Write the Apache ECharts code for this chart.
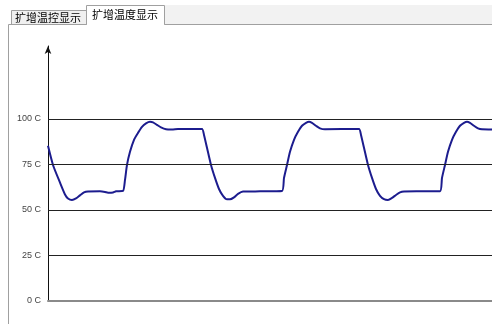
<!DOCTYPE html>
<html>
<head>
<meta charset="utf-8">
<script src="https://cdn.jsdelivr.net/npm/echarts@6/dist/echarts.min.js"></script>
<style>
html,body{margin:0;padding:0;background:#fff;}
#c{width:492px;height:324px;}
</style>
</head>
<body>
<div id="c"></div>
<script>
// Tabs
var tabLabels = ['扩增温控显示', '扩增温度显示'];
// Y axis
var yTickValues = [0, 25, 50, 75, 100];
var gridValues = [25, 50, 75, 100];
var yUnit = ' C';
// Time (s) and temperature (°C)
var times = [
  0, 5, 12, 17, 20, 24, 28, 32, 36, 40, 52, 57, 60, 65, 68, 75,
  77, 79, 82, 86, 90, 94, 98, 102, 105, 109, 113, 118, 124, 130, 154,
  156, 159, 163, 167, 171, 175, 179, 182, 186, 190, 195, 212, 234,
  236, 239, 242, 246, 250, 254, 258, 261, 264, 268, 272, 277, 311,
  313, 316, 320, 324, 328, 332, 336, 340, 344, 348, 352, 356, 372, 392,
  394, 397, 400, 404, 408, 412, 416, 419, 422, 426, 430, 434, 444
];
var temps = [
  85.2, 74.7, 65, 58.5, 56.3, 55.5, 56.3, 58.0, 59.6, 60.1, 60.2, 59.9, 59.5, 59.6, 60.2, 60.4,
  66.5, 74.7, 81.9, 88.5, 92.3, 95.6, 97.5, 98.4, 98.1, 96.7, 95.3, 94.3, 94.2, 94.5, 94.5,
  91.2, 84.1, 74.7, 67.6, 61.5, 57.7, 55.8, 55.8, 56.9, 58.8, 60.1, 60.2, 60.4,
  67.6, 74.7, 81.9, 88.5, 92.9, 96.2, 97.8, 98.4, 97.8, 96.2, 94.8, 94.3, 94.5,
  91.2, 84.1, 74.7, 67.6, 61.5, 57.7, 55.9, 55.5, 56.6, 58.2, 59.6, 60.1, 60.2, 60.3,
  67.6, 74.7, 81.9, 88.5, 92.9, 96.2, 97.8, 98.4, 97.8, 96.2, 94.8, 94.3, 94.2
];

var data = times.map(function (t, i) { return [t, temps[i]]; });
var chart = echarts.init(document.getElementById('c'), null, {renderer: 'canvas'});

var option = {
  backgroundColor: '#ffffff',
  animation: false,
  grid: {left: 48, right: 0, top: 46, bottom: 23, containLabel: false},
  xAxis: {
    type: 'value', min: 0, max: 444,
    axisLine: {show: true, lineStyle: {color: '#8a8a8a', width: 2}},
    axisTick: {show: false}, axisLabel: {show: false}, splitLine: {show: false}
  },
  yAxis: {
    type: 'value', min: 0, max: 140, interval: 25,
    axisLine: {show: true, symbol: ['none', 'arrow'], symbolSize: [5, 8], symbolOffset: [0, 0],
      lineStyle: {color: '#111', width: 1}},
    axisTick: {show: false},
    splitLine: {show: false},
    axisLabel: {
      margin: 7, color: '#444', fontSize: 9, fontFamily: 'Liberation Sans',
      formatter: function (v) { return yTickValues.indexOf(v) >= 0 ? v + yUnit : ''; }
    }
  },
  graphic: [
    {type: 'rect', shape: {x: 164, y: 5, width: 328, height: 19}, style: {fill: '#f2f2f2'}, silent: true},
    {type: 'rect', shape: {x: 11.5, y: 10.5, width: 75, height: 14}, style: {fill: '#f0f0f0', stroke: '#a0a0a0', lineWidth: 1}},
    {type: 'rect', shape: {x: 86.5, y: 5.5, width: 78, height: 19}, style: {fill: '#ffffff', stroke: '#a0a0a0', lineWidth: 1}},
    {type: 'polyline', shape: {points: [[8.5, 324], [8.5, 24.5], [86.5, 24.5]]}, style: {stroke: '#a0a0a0', lineWidth: 1, fill: null}},
    {type: 'line', shape: {x1: 164.5, y1: 24.5, x2: 492, y2: 24.5}, style: {stroke: '#a0a0a0', lineWidth: 1}},
    {type: 'line', shape: {x1: 87, y1: 24.5, x2: 164, y2: 24.5}, style: {stroke: '#ffffff', lineWidth: 1}},
    {type: 'text', x: 15, y: 17.5, style: {text: tabLabels[0], fill: '#000', font: '11px "Noto Sans CJK SC"', textVerticalAlign: 'middle', verticalAlign: 'middle'}},
    {type: 'text', x: 92, y: 15, style: {text: tabLabels[1], fill: '#000', font: '11px "Noto Sans CJK SC"', textVerticalAlign: 'middle', verticalAlign: 'middle'}}
  ],
  series: [{
    type: 'line',
    data: data,
    smooth: 0.2,
    showSymbol: false,
    lineStyle: {color: '#1c1c8e', width: 2},
    markLine: {
      silent: true,
      symbol: ['none', 'none'],
      label: {show: false},
      lineStyle: {color: '#222', width: 1, type: 'solid'},
      data: gridValues.map(function (v) { return {yAxis: v}; })
    },
    z: 3
  }]
};
chart.setOption(option);
</script>
</body>
</html>
